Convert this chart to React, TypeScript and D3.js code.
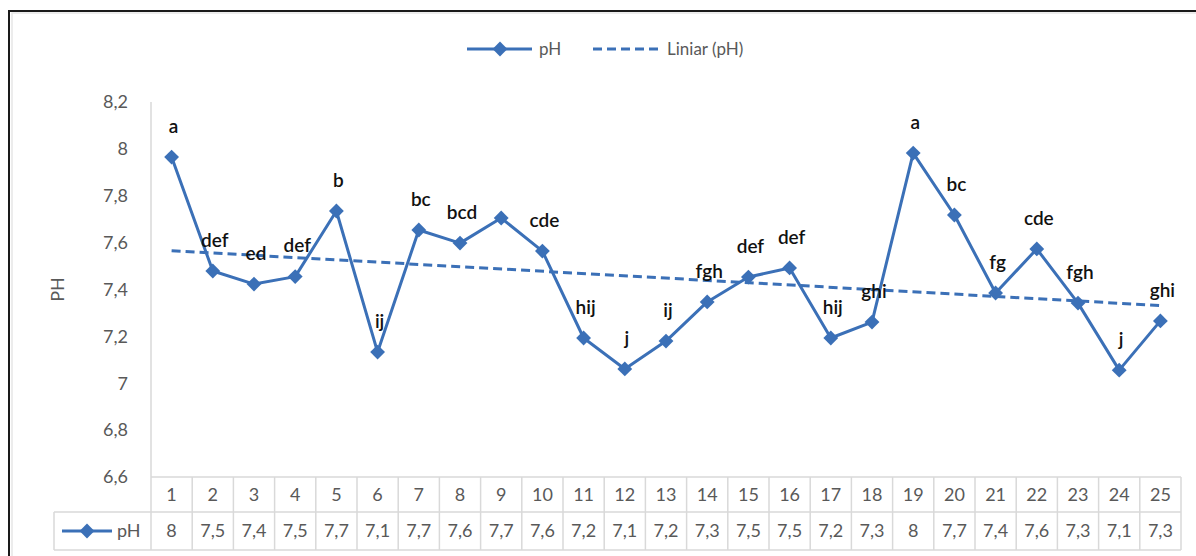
import React from 'react';
import * as d3 from 'd3';

// sample numbers on the category axis
const categories = d3.range(1, 26).map(String);
// measured pH values
const phValues = [
  7.965, 7.479, 7.423, 7.455, 7.735, 7.133, 7.654, 7.598, 7.705, 7.564, 7.193, 7.061, 7.18,
  7.347, 7.453, 7.492, 7.193, 7.261, 7.982, 7.718, 7.385, 7.573, 7.342, 7.056, 7.266,
];
// significance letters above each point (point 9 has none)
const letters = [
  'a', 'def', 'ed', 'def', 'b', 'ij', 'bc', 'bcd', '', 'cde', 'hij', 'j', 'ij',
  'fgh', 'def', 'def', 'hij', 'ghi', 'a', 'bc', 'fg', 'cde', 'fgh', 'j', 'ghi',
];
const yTicks = [6.6, 6.8, 7, 7.2, 7.4, 7.6, 7.8, 8, 8.2];

const W = 1196;
const H = 556;
const blue = '#3b70b7';
const grid = '#d9d9d9';
const grey = '#595959';
const font = 'Lato, "Open Sans", sans-serif';

const locale = d3.formatLocale({ decimal: ',', thousands: '.', grouping: [3], currency: ['', ''] });
const fmtTick = locale.format('.2~f');
const fmtVal = locale.format('.1~f');

export default function App() {
  const plot = { left: 151, right: 1181, top: 102, bottom: 477 };
  const row1 = 512;
  const row2 = 550;
  const keyLeft = 54;

  const x = d3.scaleBand<string>().domain(categories).range([plot.left, plot.right]).padding(0);
  const y = d3.scaleLinear().domain([6.6, 8.2]).range([plot.bottom, plot.top]);
  const cx = (i: number) => (x(categories[i]) || 0) + x.bandwidth() / 2;

  const line = d3
    .line<number>()
    .x((_, i) => cx(i))
    .y((d) => y(d));

  // least squares trend, like the spreadsheet's linear trendline
  const n = phValues.length;
  const xs = d3.range(1, n + 1);
  const mx = d3.mean(xs)!;
  const my = d3.mean(phValues)!;
  const slope =
    d3.sum(xs, (v, i) => (v - mx) * (phValues[i] - my)) / d3.sum(xs, (v) => (v - mx) * (v - mx));
  const icpt = my - slope * mx;
  const trend = [icpt + slope * 1, icpt + slope * n];

  const diamond = d3.symbol().type(d3.symbolSquare).size(110)()!;

  return (
    <svg width={W} height={H} style={{ position: 'absolute', left: 0, top: 0, background: '#fff' }}>
      {/* frame */}
      <rect x={12} y={13} width={W} height={H} fill="none" stroke="#e6e6e6" strokeWidth={1.5} />
      <rect x={9} y={11} width={W} height={H} fill="none" stroke="#1a1a1a" strokeWidth={2} />

      {/* legend */}
      <g fontFamily={font} fontSize={17} fill={grey}>
        <line x1={467} x2={532} y1={49} y2={49} stroke={blue} strokeWidth={3} />
        <path d={diamond} transform="translate(500,49) rotate(45)" fill={blue} />
        <text x={539} y={49} dy="0.35em">pH</text>
        <line x1={593} x2={660} y1={49} y2={49} stroke={blue} strokeWidth={3} strokeDasharray="9,5" />
        <text x={667} y={49} dy="0.35em">Liniar (pH)</text>
      </g>

      {/* y axis */}
      <line x1={plot.left} x2={plot.left} y1={plot.top} y2={row2} stroke={grid} strokeWidth={1.5} />
      <g fontFamily={font} fontSize={18} fill={grey} textAnchor="end">
        {yTicks.map((t) => (
          <text key={t} x={128} y={y(t)} dy="0.35em">
            {fmtTick(t)}
          </text>
        ))}
      </g>
      <text
        transform={`translate(58,${(plot.top + plot.bottom) / 2}) rotate(-90)`}
        textAnchor="middle"
        dy="0.35em"
        fontFamily={font}
        fontSize={18}
        fill={grey}
      >
        PH
      </text>

      {/* data table */}
      <g stroke={grid} strokeWidth={1.5}>
        <line x1={plot.left} x2={plot.right} y1={plot.bottom} y2={plot.bottom} />
        <line x1={keyLeft} x2={plot.right} y1={row1} y2={row1} />
        <line x1={keyLeft} x2={plot.right} y1={row2} y2={row2} />
        <line x1={keyLeft} x2={keyLeft} y1={row1} y2={row2} />
        {categories.map((c) => (
          <line key={c} x1={(x(c) || 0) + x.bandwidth()} x2={(x(c) || 0) + x.bandwidth()} y1={plot.bottom} y2={row2} />
        ))}
      </g>
      <g fontFamily={font} fontSize={18} fill={grey} textAnchor="middle">
        {categories.map((c, i) => (
          <text key={c} x={cx(i)} y={(plot.bottom + row1) / 2} dy="0.35em">
            {c}
          </text>
        ))}
        {phValues.map((v, i) => (
          <text key={i} x={cx(i)} y={(row1 + row2) / 2} dy="0.35em">
            {fmtVal(v)}
          </text>
        ))}
      </g>
      <line x1={62} x2={112} y1={(row1 + row2) / 2} y2={(row1 + row2) / 2} stroke={blue} strokeWidth={3} />
      <path d={diamond} transform={`translate(87,${(row1 + row2) / 2}) rotate(45)`} fill={blue} />
      <text x={117} y={(row1 + row2) / 2} dy="0.35em" fontFamily={font} fontSize={18} fill={grey}>
        pH
      </text>

      {/* series */}
      <path d={line(phValues)!} fill="none" stroke={blue} strokeWidth={3} strokeLinejoin="round" />
      <line
        x1={cx(0)}
        x2={cx(n - 1)}
        y1={y(trend[0])}
        y2={y(trend[1])}
        stroke={blue}
        strokeWidth={3}
        strokeDasharray="9,5"
      />
      {phValues.map((v, i) => (
        <path key={i} d={diamond} transform={`translate(${cx(i)},${y(v)}) rotate(45)`} fill={blue} />
      ))}
      <g fontFamily={font} fontSize={19} fontWeight={600} fill="#111" textAnchor="middle">
        {letters.map((l, i) => (
          <text key={i} x={cx(i) + 2} y={y(phValues[i]) - 31} dy="0.35em">
            {l}
          </text>
        ))}
      </g>
    </svg>
  );
}
